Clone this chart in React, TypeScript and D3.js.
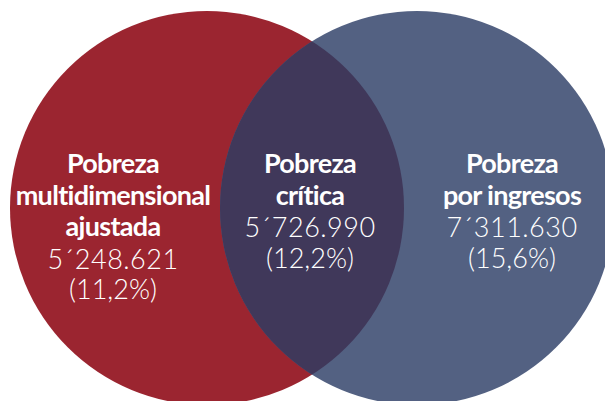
import * as d3 from 'd3';

// Venn: pobreza multidimensional ajustada vs. pobreza por ingresos
const regions = ['multidimensional', 'critica', 'ingresos'];
const titles = [
  ['Pobreza', 'multidimensional', 'ajustada'],
  ['Pobreza', 'crítica'],
  ['Pobreza', 'por ingresos'],
];
const counts = ['5´248.621', '5´726.990', '7´311.630'];
const shares = ['(11,2%)', '(12,2%)', '(15,6%)'];

const width = 605;
const height = 401;

const colors = {
  left: '#9b2530',
  right: '#536182',
  overlap: '#40385a',
};

const App = () => {
  // circle centres and label anchors on the same horizontal scale
  const x = d3.scaleLinear().domain([0, 1]).range([207, 417]);
  const r = 197;
  const cy = 208;
  const labelX = d3.scaleOrdinal<string, number>()
    .domain(regions)
    .range([113, 310, 512]);
  const lineY = (i: number) => 173 + i * 31.5;

  const circlePath = (cx: number) => {
    const p = d3.path();
    p.arc(cx, cy, r, 0, Math.PI * 2);
    p.closePath();
    return p.toString();
  };

  return (
    <svg
      width={width}
      height={height}
      style={{ position: 'absolute', left: 0, top: 0, background: '#fff' }}
    >
      <defs>
        <clipPath id="left-clip">
          <path d={circlePath(x(0))} />
        </clipPath>
      </defs>
      <path d={circlePath(x(0))} fill={colors.left} />
      <path d={circlePath(x(1))} fill={colors.right} />
      <path d={circlePath(x(1))} fill={colors.overlap} clipPath="url(#left-clip)" />

      {regions.map((key, i) => {
        const lines = titles[i];
        const cx = labelX(key);
        return (
          <g key={key} fill="#fff" textAnchor="middle">
            {lines.map((t, j) => (
              <text
                key={t}
                x={cx}
                y={lineY(j)}
                fontFamily="Lato, 'Open Sans', sans-serif"
                fontWeight={700}
                fontSize={27}
                letterSpacing={-0.7}
              >
                {t}
              </text>
            ))}
            <text
              x={cx}
              y={lineY(lines.length) + 1}
              fontFamily="Lato, 'Open Sans', sans-serif"
              fontWeight={300}
              fontSize={27}
              letterSpacing={0.5}
            >
              {counts[i]}
            </text>
            <text
              x={cx}
              y={lineY(lines.length + 1)}
              fontFamily="Lato, 'Open Sans', sans-serif"
              fontWeight={300}
              fontSize={27}
            >
              {shares[i]}
            </text>
          </g>
        );
      })}
    </svg>
  );
};

export default App;
